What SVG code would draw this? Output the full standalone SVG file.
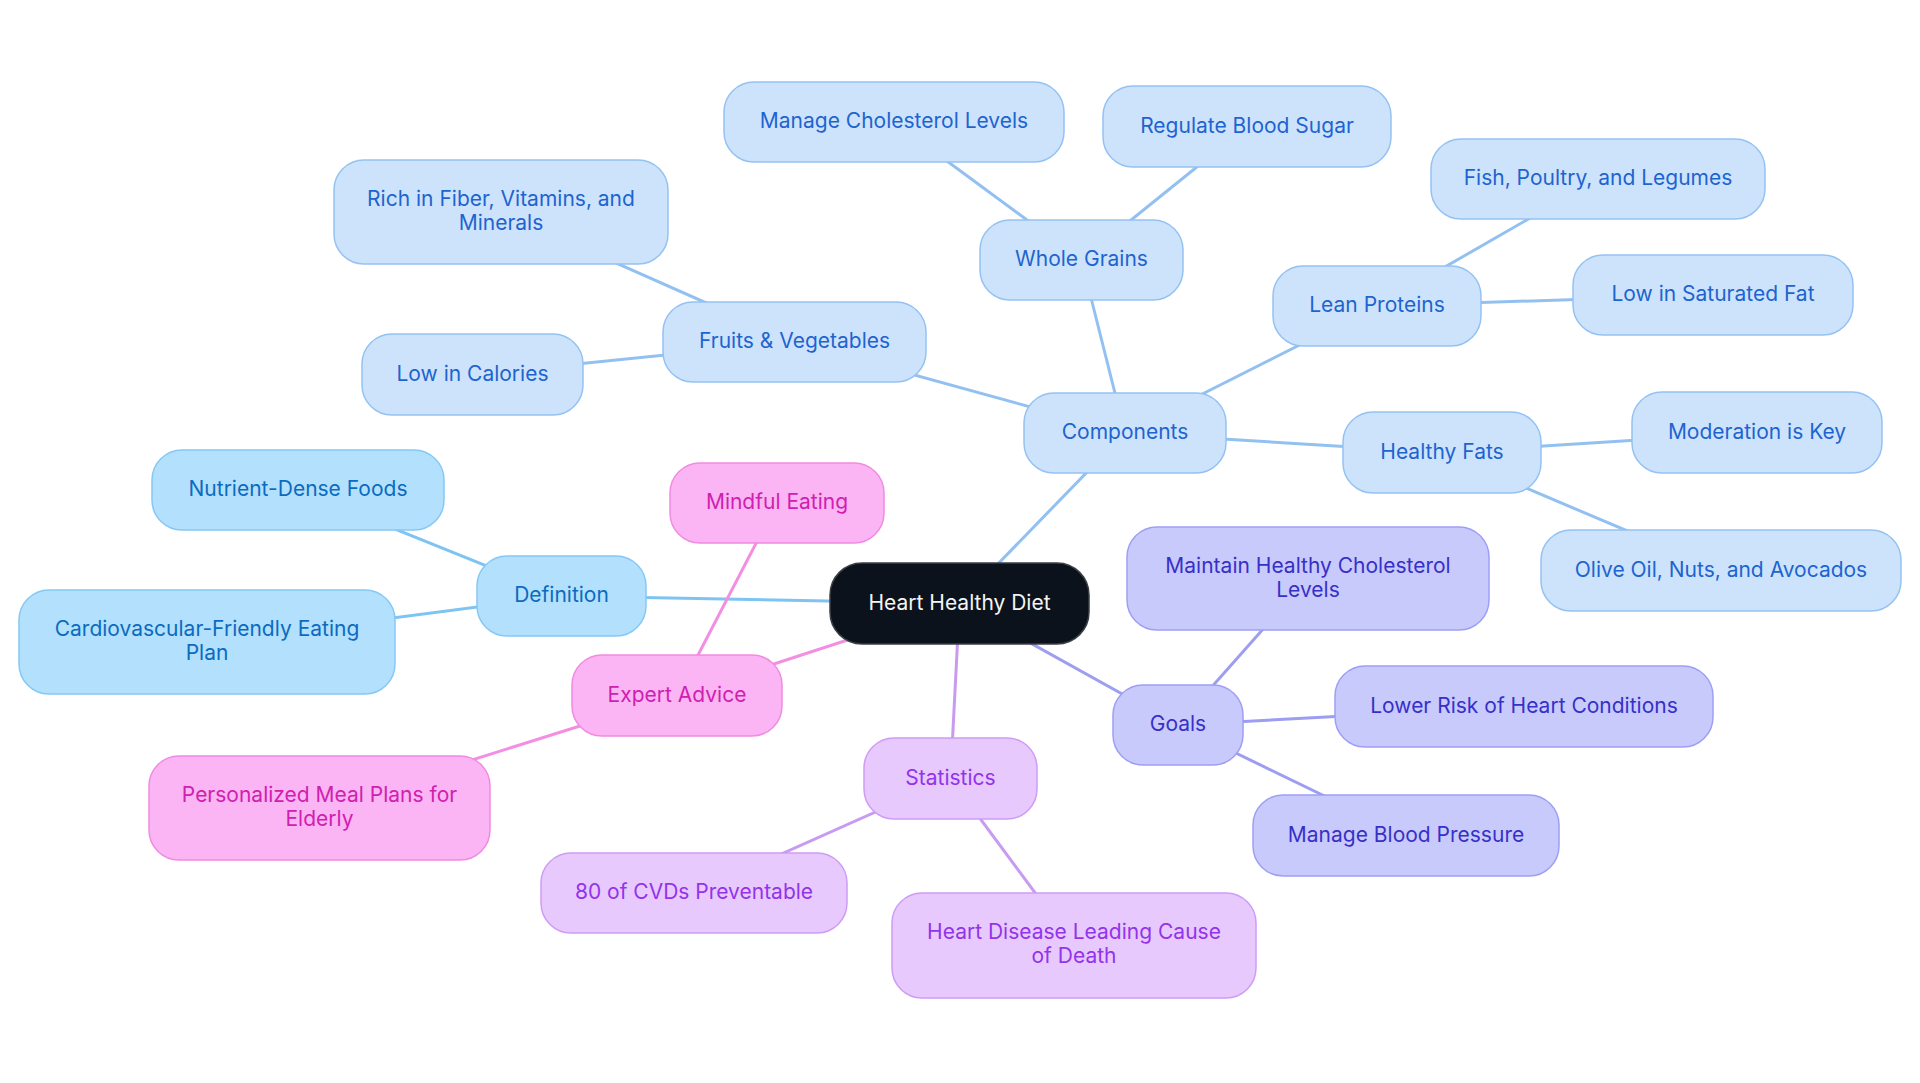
<svg xmlns="http://www.w3.org/2000/svg" width="1920" height="1083" viewBox="0 0 1920 1083">
<style>
text{font-family:Inter,"Noto Sans",sans-serif;font-size:21px;text-anchor:middle;dominant-baseline:central}
.c rect{fill:#cde3fb;stroke:#94c2f2;stroke-width:1.5}
.c text{fill:#1e64d0}
.d rect{fill:#b3e0fd;stroke:#86c8f5;stroke-width:1.5}
.d text{fill:#0b6bbf}
.e rect{fill:#fbb5f4;stroke:#f08be2;stroke-width:1.5}
.e text{fill:#d020b0}
.s rect{fill:#e7c9fd;stroke:#cf9cf5;stroke-width:1.5}
.s text{fill:#9333ea}
.g rect{fill:#c8cafc;stroke:#9d9ff5;stroke-width:1.5}
.g text{fill:#3730c8}
.root rect{fill:#0c121c;stroke:#3a3f47;stroke-width:1.5}
.root text{fill:#f4f4f4}
#connectors line{stroke-width:3;fill:none}
.lc{stroke:#92c1f1}
.ld{stroke:#7ec4f3}
.le{stroke:#f28fe2}
.ls{stroke:#c99bf0}
.lg{stroke:#9d9ef0}
</style>
<rect width="1920" height="1083" fill="#ffffff"/>
<g id="connectors">
<line class="lc" x1="959.5" y1="603.5" x2="1125" y2="433"/>
<line class="ld" x1="959.5" y1="603.5" x2="561.5" y2="596"/>
<line class="le" x1="959.5" y1="603.5" x2="677" y2="695.5"/>
<line class="ls" x1="959.5" y1="603.5" x2="950.5" y2="778.5"/>
<line class="lg" x1="959.5" y1="603.5" x2="1178" y2="725"/>
<line class="lc" x1="1125" y1="433" x2="794.5" y2="342"/>
<line class="lc" x1="1125" y1="433" x2="1081.5" y2="260"/>
<line class="lc" x1="1125" y1="433" x2="1377" y2="306"/>
<line class="lc" x1="1125" y1="433" x2="1442" y2="452.5"/>
<line class="lc" x1="1081.5" y1="260" x2="894" y2="122"/>
<line class="lc" x1="1081.5" y1="260" x2="1247" y2="126.5"/>
<line class="lc" x1="1377" y1="306" x2="1598" y2="179"/>
<line class="lc" x1="1377" y1="306" x2="1713" y2="295"/>
<line class="lc" x1="1442" y1="452.5" x2="1757" y2="432.5"/>
<line class="lc" x1="1442" y1="452.5" x2="1721" y2="570.5"/>
<line class="lc" x1="794.5" y1="342" x2="501" y2="212"/>
<line class="lc" x1="794.5" y1="342" x2="472.5" y2="374.5"/>
<line class="ld" x1="561.5" y1="596" x2="298" y2="490"/>
<line class="ld" x1="561.5" y1="596" x2="207" y2="642"/>
<line class="le" x1="677" y1="695.5" x2="777" y2="503"/>
<line class="le" x1="677" y1="695.5" x2="319.5" y2="808"/>
<line class="ls" x1="950.5" y1="778.5" x2="694" y2="893"/>
<line class="ls" x1="950.5" y1="778.5" x2="1074" y2="945.5"/>
<line class="lg" x1="1178" y1="725" x2="1308" y2="578.5"/>
<line class="lg" x1="1178" y1="725" x2="1524" y2="706.5"/>
<line class="lg" x1="1178" y1="725" x2="1406" y2="835.5"/>
</g>
<g id="root" class="root"><rect x="830" y="563" width="259" height="81" rx="32"/><text x="959.5" y="602">Heart Healthy Diet</text></g>
<g id="components" class="c"><rect x="1024" y="393" width="202" height="80" rx="30"/><text x="1125" y="431.5">Components</text></g>
<g id="whole-grains" class="c"><rect x="980" y="220" width="203" height="80" rx="30"/><text x="1081.5" y="258.5">Whole Grains</text></g>
<g id="manage-cholesterol" class="c"><rect x="724" y="82" width="340" height="80" rx="30"/><text x="894" y="120.5">Manage Cholesterol Levels</text></g>
<g id="regulate-blood-sugar" class="c"><rect x="1103" y="86" width="288" height="81" rx="30"/><text x="1247" y="125">Regulate Blood Sugar</text></g>
<g id="lean-proteins" class="c"><rect x="1273" y="266" width="208" height="80" rx="30"/><text x="1377" y="304.5">Lean Proteins</text></g>
<g id="fish-poultry" class="c"><rect x="1431" y="139" width="334" height="80" rx="30"/><text x="1598" y="177.5">Fish, Poultry, and Legumes</text></g>
<g id="low-sat-fat" class="c"><rect x="1573" y="255" width="280" height="80" rx="30"/><text x="1713" y="293.5">Low in Saturated Fat</text></g>
<g id="healthy-fats" class="c"><rect x="1343" y="412" width="198" height="81" rx="30"/><text x="1442" y="451">Healthy Fats</text></g>
<g id="moderation" class="c"><rect x="1632" y="392" width="250" height="81" rx="30"/><text x="1757" y="431">Moderation is Key</text></g>
<g id="olive-oil" class="c"><rect x="1541" y="530" width="360" height="81" rx="30"/><text x="1721" y="569">Olive Oil, Nuts, and Avocados</text></g>
<g id="fruits-veg" class="c"><rect x="663" y="302" width="263" height="80" rx="30"/><text x="794.5" y="340.5">Fruits &amp; Vegetables</text></g>
<g id="rich-fiber" class="c"><rect x="334" y="160" width="334" height="104" rx="30"/><text x="501" y="198">Rich in Fiber, Vitamins, and</text><text x="501" y="222">Minerals</text></g>
<g id="low-calories" class="c"><rect x="362" y="334" width="221" height="81" rx="30"/><text x="472.5" y="373">Low in Calories</text></g>
<g id="definition" class="d"><rect x="477" y="556" width="169" height="80" rx="30"/><text x="561.5" y="594.5">Definition</text></g>
<g id="nutrient-dense" class="d"><rect x="152" y="450" width="292" height="80" rx="30"/><text x="298" y="488.5">Nutrient-Dense Foods</text></g>
<g id="cardio-plan" class="d"><rect x="19" y="590" width="376" height="104" rx="30"/><text x="207" y="628">Cardiovascular-Friendly Eating</text><text x="207" y="652">Plan</text></g>
<g id="expert-advice" class="e"><rect x="572" y="655" width="210" height="81" rx="30"/><text x="677" y="694">Expert Advice</text></g>
<g id="mindful-eating" class="e"><rect x="670" y="463" width="214" height="80" rx="30"/><text x="777" y="501.5">Mindful Eating</text></g>
<g id="personalized" class="e"><rect x="149" y="756" width="341" height="104" rx="30"/><text x="319.5" y="794">Personalized Meal Plans for</text><text x="319.5" y="818">Elderly</text></g>
<g id="statistics" class="s"><rect x="864" y="738" width="173" height="81" rx="30"/><text x="950.5" y="777">Statistics</text></g>
<g id="cvds" class="s"><rect x="541" y="853" width="306" height="80" rx="30"/><text x="694" y="891.5">80 of CVDs Preventable</text></g>
<g id="heart-disease" class="s"><rect x="892" y="893" width="364" height="105" rx="30"/><text x="1074" y="931.5">Heart Disease Leading Cause</text><text x="1074" y="955.5">of Death</text></g>
<g id="goals" class="g"><rect x="1113" y="685" width="130" height="80" rx="30"/><text x="1178" y="723.5">Goals</text></g>
<g id="maintain-cholesterol" class="g"><rect x="1127" y="527" width="362" height="103" rx="30"/><text x="1308" y="565">Maintain Healthy Cholesterol</text><text x="1308" y="589">Levels</text></g>
<g id="lower-risk" class="g"><rect x="1335" y="666" width="378" height="81" rx="30"/><text x="1524" y="705">Lower Risk of Heart Conditions</text></g>
<g id="manage-bp" class="g"><rect x="1253" y="795" width="306" height="81" rx="30"/><text x="1406" y="834">Manage Blood Pressure</text></g>
</svg>
